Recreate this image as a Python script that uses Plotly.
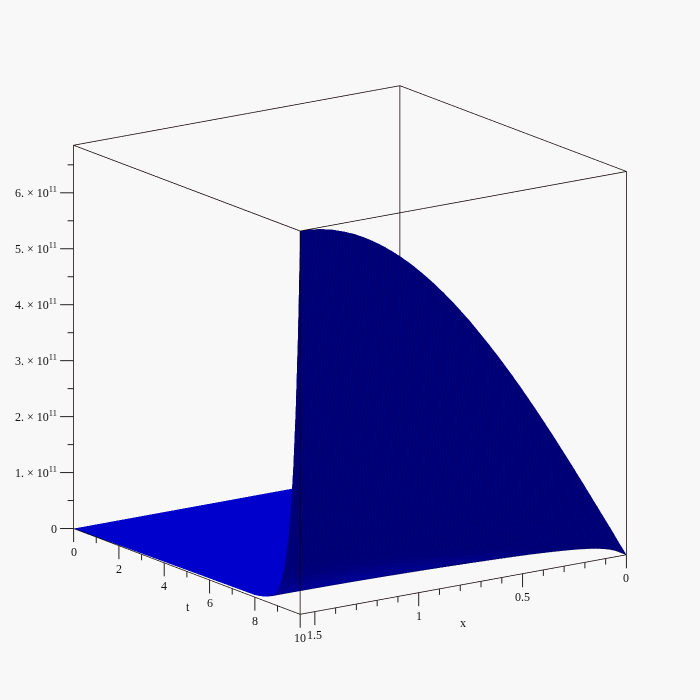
import plotly.graph_objects as go

x_vals = [0, .0157, .0314, .0471, .0628, .0785, .0942, .11, .1257, .1414, .1571,
          .1728, .1885, .2042, .2199, .2356, .2513, .267, .2827, .2985, .3142,
          .3299, .3456, .3613, .377, .3927, .4084, .4241, .4398, .4555, .4712,
          .4869, .5027, .5184, .5341, .5498, .5655, .5812, .5969, .6126, .6283,
          .644, .6597, .6754, .6912, .7069, .7226, .7383, .754, .7697, .7854,
          .8011, .8168, .8325, .8482, .8639, .8796, .8954, .9111, .9268, .9425,
          .9582, .9739, .9896, 1.0053, 1.021, 1.0367, 1.0524, 1.0681, 1.0838, 1.0996,
          1.1153, 1.131, 1.1467, 1.1624, 1.1781, 1.1938, 1.2095, 1.2252, 1.2409, 1.2566,
          1.2723, 1.2881, 1.3038, 1.3195, 1.3352, 1.3509, 1.3666, 1.3823, 1.398, 1.4137,
          1.4294, 1.4451, 1.4608, 1.4766, 1.4923, 1.508, 1.5237, 1.5394, 1.5551, 1.5708]
x_profile = [0, .016, .031, .047, .063, .079, .094, .11, .125, .141, .156,
             .172, .187, .203, .218, .233, .249, .264, .279, .294, .309,
             .324, .339, .354, .368, .383, .397, .412, .426, .44, .454,
             .468, .482, .496, .509, .523, .536, .549, .562, .575, .588,
             .6, .613, .625, .637, .649, .661, .673, .685, .696, .707,
             .718, .729, .74, .75, .76, .771, .78, .79, .8, .809,
             .818, .827, .836, .844, .853, .861, .869, .876, .884, .891,
             .898, .905, .911, .918, .924, .93, .935, .941, .946, .951,
             .956, .96, .965, .969, .972, .976, .979, .982, .985, .988,
             .99, .992, .994, .996, .997, .998, .999, 1.0, 1.0, 1.0]
t_vals = [0, 8, 8.2, 8.4, 8.6, 8.8, 9, 9.1, 9.2, 9.3, 9.4, 9.5, 9.6, 9.7, 9.8, 9.9, 10]
t_growth = [0, .0055, .0075, .0105, .015, .022, .04, .056, .077, .106, .146, .201, .278, .383, .527, .726, 1.0]
t_shade = [1, 1, 1, 1, .8, .65, .4, .25, .1, 0, 0, 0, 0, 0, 0, 0, 0]
z_peak = 6.85e11
X_MAX = 1.5708
T_MAX = 10
z_ticks = [0, .5e11, 1e11, 1.5e11, 2e11, 2.5e11, 3e11, 3.5e11, 4e11, 4.5e11, 5e11, 5.5e11, 6e11, 6.5e11]
z_labels = ["0", "", "1. × 10<sup>11</sup>", "", "2. × 10<sup>11</sup>", "", "3. × 10<sup>11</sup>", "", "4. × 10<sup>11</sup>", "", "5. × 10<sup>11</sup>", "", "6. × 10<sup>11</sup>", ""]
x_ticks = [0, .1, .2, .3, .4, .5, .6, .7, .8, .9, 1, 1.1, 1.2, 1.3, 1.4, 1.5]
x_labels = ["0", "", "", "", "", "0.5", "", "", "", "", "1", "", "", "", "", "1.5"]
t_ticks = [0, 1, 2, 3, 4, 5, 6, 7, 8, 9, 10]
t_labels = ["0", "", "2", "", "4", "", "6", "", "8", "", "10"]

z = [[g * p * z_peak for p in x_profile] for g in t_growth]
sc = [[s for _ in x_vals] for s in t_shade]
split = 3
scale = [[0, "#00007a"], [1, "#0000cd"]]
light = dict(ambient=1, diffuse=0, specular=0, fresnel=0, roughness=1)
EDGE = "#0c0000"
fig = go.Figure()
fig.add_surface(x=x_vals, y=t_vals[:split + 1], z=z[:split + 1], surfacecolor=sc[:split + 1], cmin=0, cmax=1,
                colorscale=scale, showscale=False, lighting=light, hoverinfo="skip")
fig.add_surface(x=x_vals, y=t_vals[split:], z=z[split:], surfacecolor=sc[split:], cmin=0, cmax=1,
                colorscale=scale, showscale=False, lighting=light, hoverinfo="skip",
                contours=dict(x=dict(show=True, start=0, end=X_MAX, size=0.0157, color="#000060", width=1)))
# the box edges that the axes do not mirror
fig.add_scatter3d(x=[X_MAX, X_MAX, 0, 0, None, X_MAX, X_MAX, None, 0, 0],
                  y=[0, T_MAX, T_MAX, T_MAX, None, T_MAX, T_MAX, None, 0, 0],
                  z=[z_peak, z_peak, z_peak, 0, None, 0, z_peak, None, 0, z_peak],
                  mode="lines", line=dict(color=EDGE, width=1.5), hoverinfo="skip", connectgaps=False)


def axis(vals, rng):
    return dict(title=dict(text=""), range=rng, tickmode="array", tickvals=vals, showticklabels=False,
                ticks="", showgrid=False, zeroline=False,
                showbackground=False, showline=True, linecolor=EDGE, linewidth=1.5,
                mirror=True, showspikes=False)


FONT = dict(family="Liberation Serif", size=12, color="#111111")
X_EDGE = 1.5706
notes = []
def tick(px, py, pz, label, dx, dy, major):
    # dx, dy: direction of the tick in pixels, from the axis
    factor = 15 if major else 7.5
    notes.append(dict(x=px, y=py, z=pz, text="", showarrow=True, arrowhead=0, arrowwidth=1,
                      arrowcolor="#222222", ax=dx * factor, ay=dy * factor, standoff=0))
    if label:
        if dx:
            notes.append(dict(x=px, y=py, z=pz, text=label, showarrow=False, font=FONT,
                              xanchor="right", yanchor="middle", xshift=-15, yshift=0))
        else:
            notes.append(dict(x=px, y=py, z=pz, text=label, showarrow=False, font=FONT,
                              xanchor="center", yanchor="top", yshift=-14.5))

for v, lab in zip(z_ticks, z_labels):
    tick(X_EDGE, 0, v, lab, -1, 0, bool(lab))
for v, lab in zip(x_ticks, x_labels):
    tick(v, T_MAX, 0, lab, 0, 1, bool(lab))
for v, lab in zip(t_ticks, t_labels):
    tick(X_EDGE, v, 0, lab, 0, 1, bool(lab))
notes.append(dict(x=X_EDGE, y=5, z=0, text="t", showarrow=False, font=FONT, xshift=1, yshift=-36))
notes.append(dict(x=0.785, y=T_MAX, z=0, text="x", showarrow=False, font=FONT, xshift=0, yshift=-38))

fig.update_layout(
    width=700, height=700, margin=dict(l=0, r=0, t=0, b=0), paper_bgcolor="#f8f8f8", showlegend=False,
    scene=dict(
        bgcolor="#f8f8f8",
        xaxis=axis(x_ticks, [0, X_MAX]),
        yaxis=axis(t_ticks, [0, T_MAX]),
        zaxis=axis(z_ticks, [0, z_peak]),
        aspectmode="manual",
        aspectratio=dict(x=1.135, y=1.135, z=1.135),
        annotations=notes,
        camera=dict(eye=dict(x=1.095, y=1.577, z=0.523), up=dict(x=0, y=0, z=1),
                    center=dict(x=0, y=0, z=0), projection=dict(type="orthographic")),
    ),
)
fig.write_html("out.html", config=dict(displayModeBar=False),
               post_script="document.body.style.margin='0';document.body.style.background='#f8f8f8';document.documentElement.style.overflow='hidden';")
